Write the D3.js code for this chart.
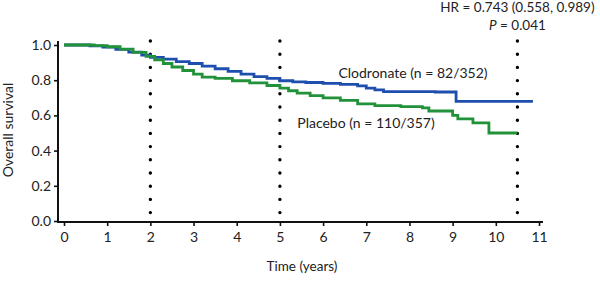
<!DOCTYPE html>
<html>
<head>
    <script src="https://cdn.jsdelivr.net/npm/d3@7/dist/d3.min.js"></script>
    <style>
        body { margin: 0; background: #fff; }
        text { font-family: Lato, "Open Sans", sans-serif; fill: #222; }
    </style>
</head>

<body>
<div id="chart"></div>

<script>

    // Kaplan-Meier steps
    var clodronateTime = [0, 0.3, 0.6, 0.9, 1.2, 1.5, 1.8, 2.0, 2.3, 2.6, 2.9, 3.2, 3.5, 3.8, 4.1, 4.4, 4.7, 5.0, 5.3, 5.6, 6.0, 6.4, 6.8, 7.0, 7.2, 7.4, 8.0, 8.6, 9.08, 10.86];
    var clodronateSurv = [1.0, 1.0, 0.995, 0.988, 0.975, 0.96, 0.942, 0.93, 0.92, 0.905, 0.895, 0.88, 0.865, 0.85, 0.835, 0.82, 0.81, 0.797, 0.79, 0.787, 0.782, 0.776, 0.768, 0.755, 0.745, 0.735, 0.735, 0.733, 0.68, 0.68];

    var placeboTime = [0, 0.7, 1.0, 1.3, 1.6, 1.9, 2.1, 2.3, 2.5, 2.75, 3.0, 3.2, 3.5, 3.9, 4.3, 4.7, 5.0, 5.2, 5.4, 5.7, 6.0, 6.4, 6.8, 7.2, 7.8, 8.3, 8.45, 9.0, 9.12, 9.47, 9.84, 10.5];
    var placeboSurv = [1.0, 0.997, 0.99, 0.977, 0.958, 0.935, 0.915, 0.895, 0.875, 0.855, 0.835, 0.818, 0.81, 0.797, 0.785, 0.77, 0.755, 0.74, 0.727, 0.712, 0.7, 0.685, 0.665, 0.655, 0.65, 0.643, 0.625, 0.6, 0.58, 0.558, 0.5, 0.5];

    var xTicks = [0, 1, 2, 3, 4, 5, 6, 7, 8, 9, 10, 11];
    var yTicks = [0.0, 0.2, 0.4, 0.6, 0.8, 1.0];
    var markerTimes = [2, 5, 10.5];

    var seriesNames = ['Clodronate (n = 82/352)', 'Placebo (n = 110/357)'];
    var hrText = 'HR = 0.743 (0.558, 0.989)';
    var pValue = '0.041';

    var width = 600;
    var height = 281;

    var xScale = d3.scaleLinear()
        .domain([0, 11])
        .range([64, 539]);

    var yScale = d3.scaleLinear()
        .domain([0, 1])
        .range([221, 45]);

    var svg = d3.select('#chart').append('svg')
        .attr('width', width)
        .attr('height', height);

    // axes
    var yAxis = svg.append('g')
        .attr('transform', 'translate(58,0)')
        .call(d3.axisLeft(yScale).tickValues(yTicks).tickFormat(d3.format('.1f')).tickSize(4).tickSizeOuter(0));
    yAxis.select('.domain').remove();
    yAxis.selectAll('line').attr('stroke', '#111').attr('stroke-width', 1.6);
    yAxis.selectAll('text').attr('font-size', 14).attr('x', -7);

    var xAxis = svg.append('g')
        .attr('transform', 'translate(0,222)')
        .call(d3.axisBottom(xScale).tickValues(xTicks).tickSize(4).tickSizeOuter(0));
    xAxis.select('.domain').remove();
    xAxis.selectAll('line').attr('stroke', '#111').attr('stroke-width', 1.6);
    xAxis.selectAll('text').attr('font-size', 14).attr('y', 10);

    svg.append('line')
        .attr('x1', 58).attr('x2', 58)
        .attr('y1', 41).attr('y2', 223)
        .attr('stroke', '#111').attr('stroke-width', 2);

    svg.append('line')
        .attr('x1', 57).attr('x2', 543)
        .attr('y1', 222).attr('y2', 222)
        .attr('stroke', '#111').attr('stroke-width', 2);

    // dotted reference lines
    svg.selectAll('line.marker')
        .data(markerTimes)
        .enter()
        .append('line')
        .attr('class', 'marker')
        .attr('x1', function(d) { return xScale(d); })
        .attr('x2', function(d) { return xScale(d); })
        .attr('y1', 41)
        .attr('y2', 214)
        .attr('stroke', '#000')
        .attr('stroke-width', 3.4)
        .attr('stroke-linecap', 'round')
        .attr('stroke-dasharray', '0,13.2');

    var line = d3.line()
        .x(function(d) { return xScale(d[0]); })
        .y(function(d) { return yScale(d[1]); })
        .curve(d3.curveStepAfter);

    var placebo = d3.zip(placeboTime, placeboSurv);
    var clodronate = d3.zip(clodronateTime, clodronateSurv);

    svg.append('path')
        .datum(clodronate)
        .attr('fill', 'none')
        .attr('stroke', '#1f4fae')
        .attr('stroke-width', 2.8)
        .attr('d', line);

    svg.append('path')
        .datum(placebo)
        .attr('fill', 'none')
        .attr('stroke', '#22923a')
        .attr('stroke-width', 2.8)
        .attr('d', line);

    // labels
    svg.append('text')
        .attr('x', 413).attr('y', 78)
        .attr('text-anchor', 'middle')
        .attr('font-size', 14)
        .text(seriesNames[0]);

    svg.append('text')
        .attr('x', 366).attr('y', 128)
        .attr('text-anchor', 'middle')
        .attr('font-size', 14)
        .text(seriesNames[1]);

    svg.append('text')
        .attr('x', xScale(10.5)).attr('y', 12)
        .attr('text-anchor', 'middle')
        .attr('font-size', 13.5)
        .text(hrText);

    var pLabel = svg.append('text')
        .attr('x', xScale(10.5)).attr('y', 30)
        .attr('text-anchor', 'middle')
        .attr('font-size', 13.5);
    pLabel.append('tspan').attr('font-style', 'italic').text('P');
    pLabel.append('tspan').text(' = ' + pValue);

    svg.append('text')
        .attr('x', 302).attr('y', 271)
        .attr('text-anchor', 'middle')
        .attr('font-size', 13.5)
        .text('Time (years)');

    svg.append('text')
        .attr('transform', 'translate(13,130) rotate(-90)')
        .attr('text-anchor', 'middle')
        .attr('font-size', 14)
        .text('Overall survival');

</script>
</body>
</html>
